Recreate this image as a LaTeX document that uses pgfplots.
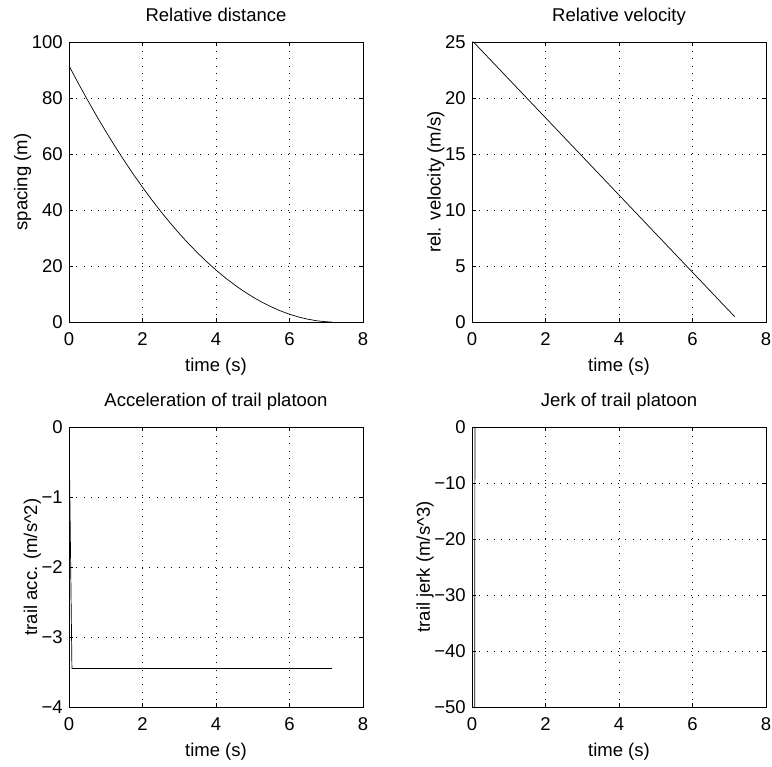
\documentclass[border=0pt]{standalone}
\usepackage{pgfplots}
\pgfplotsset{compat=1.18}
\usepackage{fontspec}
\setmainfont{Liberation Sans}
\begin{document}
\fontsize{18.5}{20}\selectfont
\begin{tikzpicture}[x=1pt,y=1pt]
\useasboundingbox (0,0) rectangle (772,767);
\pgfplotsset{
  every axis/.append style={
    scale only axis, width=294pt, height=280pt,
    anchor=south west,
    xmin=0, xmax=8, xtick={0,2,4,6,8},
    axis line style={line width=0.8pt},
    tick style={black, line width=0.6pt},
    major tick length=4pt,
    tick align=inside,
    grid=major,
    major grid style={black, line width=0.6pt, dash pattern=on 0.7pt off 6.6pt},
    /pgf/number format/assume math mode=true,
    tick label style={font=\fontsize{18.5}{20}\selectfont},
    label style={font=\fontsize{18.5}{20}\selectfont},
    title style={font=\fontsize{18.5}{20}\selectfont, text height=13.5pt, text depth=4pt, yshift=4pt},
    xticklabel style={yshift=-4pt},
    xlabel={time (s)},
    xlabel style={yshift=0pt},
    ylabel style={yshift=-12pt},
    clip=true,
  },
}
% Top-left: relative distance
\begin{axis}[at={(69pt,445pt)},
  ymin=0, ymax=100, ytick={0,20,40,60,80,100},
  title={Relative distance}, ylabel={spacing (m)}]
\addplot[black, line width=0.7pt] coordinates {
(0,91.5) (0.25,85.33) (0.5,79.37) (0.75,73.62) (1.0,68.09) (1.25,62.78)
(1.5,57.68) (1.75,52.79) (2.0,48.13) (2.25,43.68) (2.5,39.44) (2.75,35.42)
(3.0,31.61) (3.25,28.02) (3.5,24.65) (3.75,21.49) (4.0,18.55) (4.25,15.82)
(4.5,13.31) (4.75,11.02) (5.0,8.94) (5.25,7.07) (5.5,5.43) (5.75,3.99)
(6.0,2.77) (6.25,1.77) (6.5,0.99) (6.75,0.42) (7.0,0.08) (7.15,0.0)
};
\end{axis}
% Top-right: relative velocity
\begin{axis}[at={(472pt,445pt)},
  ymin=0, ymax=25, ytick={0,5,10,15,20,25},
  title={Relative velocity}, ylabel={rel. velocity (m/s)}]
\addplot[black, line width=0.7pt] coordinates {
(0,25) (0.04,25) (0.08,24.86) (7.15,0.47)
};
\end{axis}
% Bottom-left: acceleration
\begin{axis}[at={(69pt,60pt)},
  ymin=-4, ymax=0, ytick={-4,-3,-2,-1,0},
  yticklabels={−4,−3,−2,−1,0},
  title={Acceleration of trail platoon}, ylabel={trail acc. (m/s\^{}2)}]
\addplot[black, line width=0.7pt] coordinates {
(0,0) (0.08,-3.45) (7.15,-3.45)
};
\end{axis}
% Bottom-right: jerk
\begin{axis}[at={(472pt,60pt)},
  ymin=-50, ymax=0, ytick={-50,-40,-30,-20,-10,0},
  yticklabels={−50,−40,−30,−20,−10,0},
  title={Jerk of trail platoon}, ylabel={trail jerk (m/s\^{}3)}]
\addplot[black, line width=0.7pt] coordinates {
(0,0) (0.005,-2.5) (0.01,-80) (0.07,-80) (0.08,0)
};
\end{axis}
\end{tikzpicture}
\end{document}
